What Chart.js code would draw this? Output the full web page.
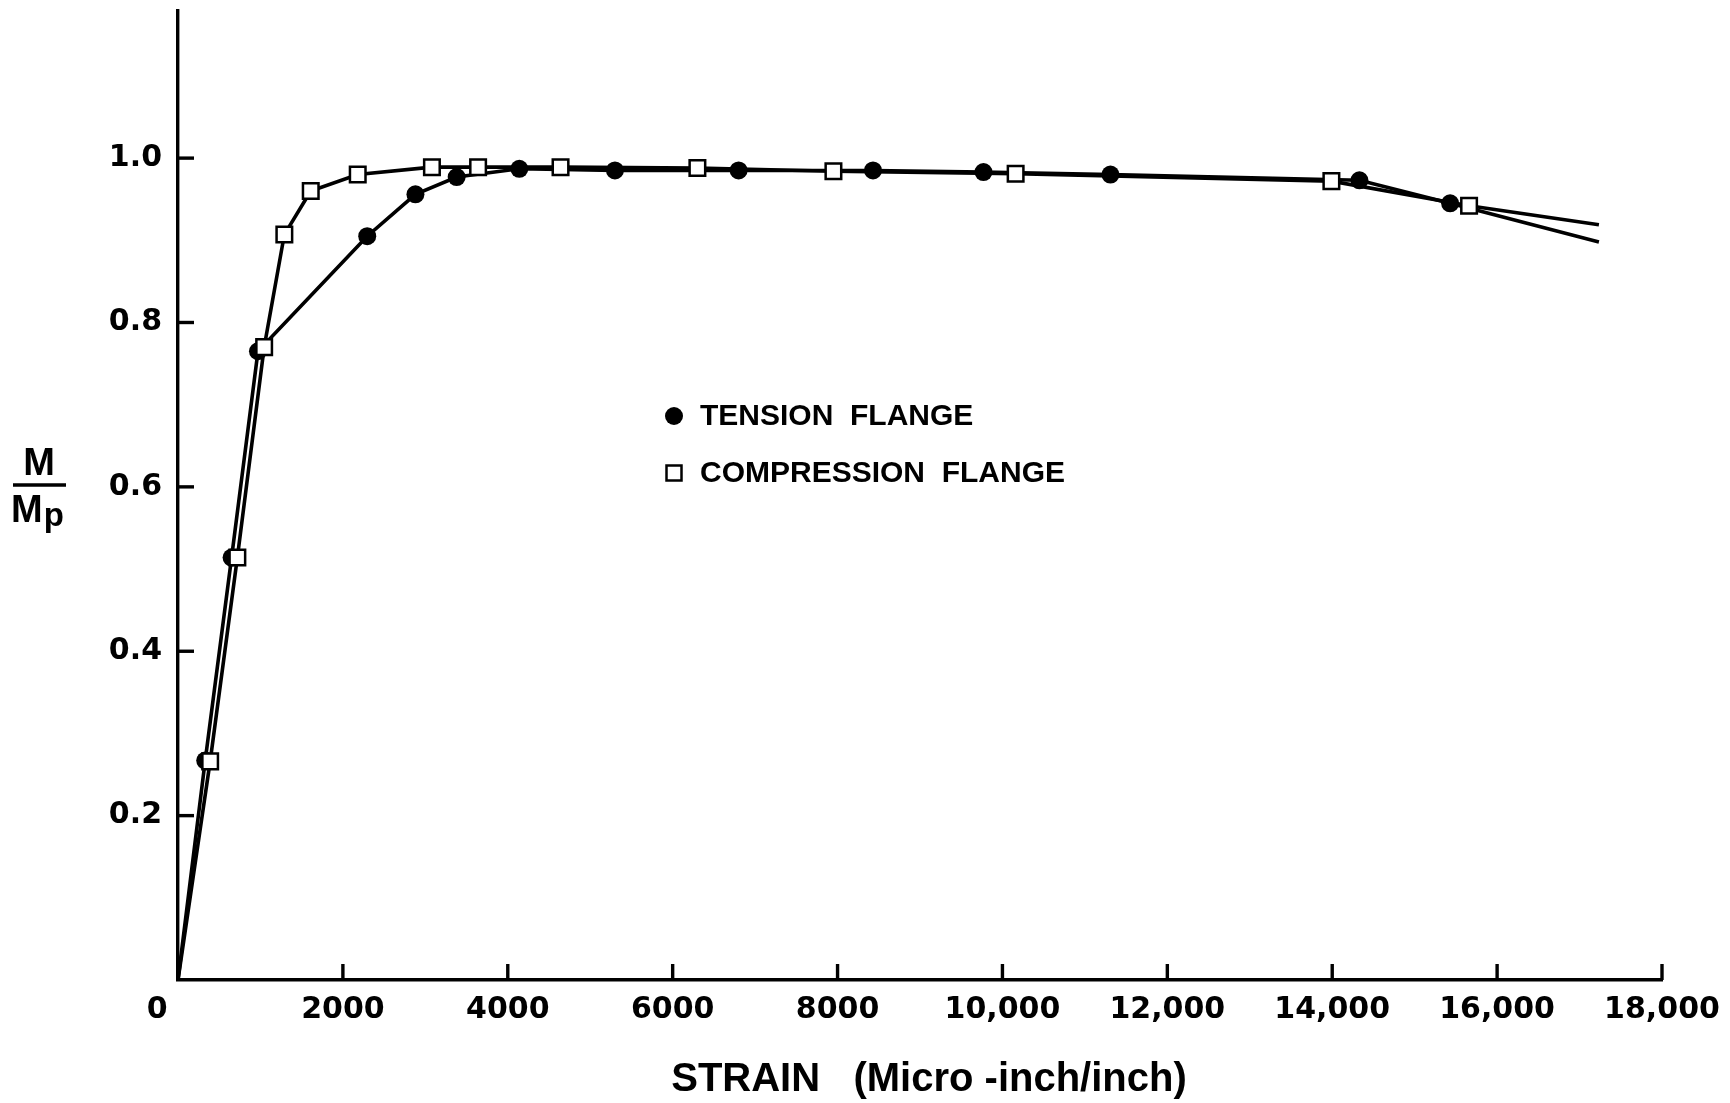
<!DOCTYPE html>
<html>
<head>
<meta charset="utf-8">
<title>Moment vs strain</title>
<script src="https://cdn.jsdelivr.net/npm/chart.js@4.4.0/dist/chart.umd.min.js"></script>
<style>
  html, body { margin: 0; padding: 0; background: #fff; }
  #wrap { width: 1730px; height: 1103px; }
</style>
</head>
<body>
<div id="wrap"><canvas id="momentChart" width="1730" height="1103"></canvas></div>
<script>
// values (strain in micro-inch/inch, moment as M/Mp)
const tensionStrain = [0, 330, 650, 970, 2295, 2880, 3380, 4140, 5300, 6800, 8430, 9770, 11310, 14330, 15430, 17235];
const tensionMoment = [0, 0.267, 0.514, 0.765, 0.905, 0.956, 0.977, 0.987, 0.985, 0.985, 0.985, 0.983, 0.980, 0.973, 0.945, 0.898];
const compressionStrain = [0, 390, 720, 1045, 1290, 1610, 2180, 3080, 3640, 4640, 6300, 7950, 10160, 13990, 15660, 17235];
const compressionMoment = [0, 0.266, 0.514, 0.770, 0.907, 0.960, 0.980, 0.989, 0.989, 0.989, 0.988, 0.984, 0.981, 0.972, 0.942, 0.919];

const strainTicks = [0, 2000, 4000, 6000, 8000, 10000, 12000, 14000, 16000, 18000];
const strainTickLabels = ["0", "2000", "4000", "6000", "8000", "10,000", "12,000", "14,000", "16,000", "18,000"];
const momentTicks = [0.2, 0.4, 0.6, 0.8, 1.0];
const momentTickLabels = ["0.2", "0.4", "0.6", "0.8", "1.0"];
const seriesLabels = ["TENSION  FLANGE", "COMPRESSION  FLANGE"];

const TICK_FONT = '"DejaVu Sans", sans-serif';
const TEXT_FONT = '"Liberation Sans", Arial, sans-serif';
const INK = "#000";

function toPoints(xs, ys) {
  return xs.map((x, i) => ({ x: x, y: ys[i] }));
}

// no marker on the origin or on the free end of each curve
function markerSize(r) {
  return (ctx) => {
    const n = ctx.dataset.data.length;
    return ctx.dataIndex === 0 || ctx.dataIndex === n - 1 ? 0 : r;
  };
}

// fixed axis box sizes, no label overhang padding
function fixBox(size) {
  return (scale) => {
    if (scale.isHorizontal()) scale.height = size; else scale.width = size;
    scale.paddingTop = 0;
    scale.paddingBottom = 0;
    scale.paddingLeft = 0;
    scale.paddingRight = 0;
  };
}

const decorations = {
  id: "decorations",
  afterDraw(chart) {
    const ctx = chart.ctx;
    const area = chart.chartArea;
    const xs = chart.scales.x;
    const ys = chart.scales.y;
    ctx.save();
    ctx.strokeStyle = INK;
    ctx.fillStyle = INK;
    ctx.lineWidth = 3.4;

    // inward tick marks
    momentTicks.forEach((v) => {
      const y = ys.getPixelForValue(v);
      ctx.beginPath();
      ctx.moveTo(area.left, y);
      ctx.lineTo(area.left + 16, y);
      ctx.stroke();
    });
    strainTicks.slice(1).forEach((v) => {
      const x = xs.getPixelForValue(v);
      ctx.beginPath();
      ctx.moveTo(x, area.bottom);
      ctx.lineTo(x, area.bottom - 16);
      ctx.stroke();
    });

    // legend
    const lx = 674, ly1 = 416, ly2 = 473;
    ctx.beginPath();
    ctx.arc(lx, ly1, 9, 0, Math.PI * 2);
    ctx.fill();
    ctx.fillStyle = "#fff";
    ctx.lineWidth = 2.5;
    ctx.fillRect(lx - 7.5, ly2 - 7.5, 15, 15);
    ctx.strokeRect(lx - 7.5, ly2 - 7.5, 15, 15);
    ctx.fillStyle = INK;
    ctx.font = "bold 30px " + TEXT_FONT;
    ctx.textAlign = "left";
    ctx.textBaseline = "middle";
    ctx.fillText(seriesLabels[0], 700, ly1 + 1);
    ctx.fillText(seriesLabels[1], 700, ly2 + 1);

    // y title  M / Mp
    ctx.textAlign = "center";
    ctx.font = "bold 38px " + TEXT_FONT;
    ctx.fillText("M", 39, 465);
    ctx.lineWidth = 3.4;
    ctx.beginPath();
    ctx.moveTo(13, 485);
    ctx.lineTo(66, 485);
    ctx.stroke();
    ctx.textAlign = "left";
    ctx.fillText("M", 11, 512);
    const mw = ctx.measureText("M").width;
    ctx.font = "bold 33px " + TEXT_FONT;
    ctx.fillText("p", 11 + mw + 1, 517);

    // x title
    ctx.textAlign = "center";
    ctx.font = "bold 40px " + TEXT_FONT;
    ctx.fillText("STRAIN   (Micro -inch/inch)", 929, 1080);
    ctx.restore();
  }
};

const chart = new Chart(document.getElementById("momentChart"), {
  type: "line",
  data: {
    datasets: [
      {
        label: seriesLabels[1],
        data: toPoints(compressionStrain, compressionMoment),
        borderColor: INK,
        borderWidth: 3.6,
        backgroundColor: "#fff",
        pointStyle: "rect",
        pointRadius: markerSize(11),
        pointBorderWidth: 2.5,
        pointBorderColor: INK,
        pointBackgroundColor: "#fff",
        tension: 0,
        order: 0
      },
      {
        label: seriesLabels[0],
        data: toPoints(tensionStrain, tensionMoment),
        borderColor: INK,
        borderWidth: 3.6,
        backgroundColor: INK,
        pointStyle: "circle",
        pointRadius: markerSize(9),
        pointBorderWidth: 0,
        pointBackgroundColor: INK,
        tension: 0,
        order: 1
      }
    ]
  },
  options: {
    responsive: false,
    animation: false,
    devicePixelRatio: 1,
    layout: { autoPadding: false, padding: { top: 11, right: 68, left: 0, bottom: 0 } },
    plugins: {
      legend: { display: false },
      tooltip: { enabled: false },
      title: { display: false }
    },
    scales: {
      x: {
        type: "linear",
        min: 0,
        max: 18000,
        afterBuildTicks: (scale) => {
          scale.ticks = strainTicks.map((v) => ({ value: v }));
        },
        afterFit: fixBox(123),
        ticks: {
          color: INK,
          font: { family: TICK_FONT, size: 30, weight: "bold" },
          padding: 12,
          maxRotation: 0,
          autoSkip: false,
          // the "0" label sits left of the origin in the original
          callback: (v) => {
            const s = strainTickLabels[strainTicks.indexOf(v)];
            return v === 0 ? s + "\u2007\u2007" : s;
          }
        },
        grid: { display: true, drawOnChartArea: false, drawTicks: false },
        border: { display: true, color: INK, width: 3.4 }
      },
      y: {
        type: "linear",
        min: 0,
        max: 1.179,
        afterBuildTicks: (scale) => {
          scale.ticks = momentTicks.map((v) => ({ value: v }));
        },
        afterFit: fixBox(178),
        ticks: {
          color: INK,
          font: { family: TICK_FONT, size: 30, weight: "bold" },
          padding: 16,
          autoSkip: false,
          callback: (v) => momentTickLabels[momentTicks.indexOf(v)]
        },
        grid: { display: true, drawOnChartArea: false, drawTicks: false },
        border: { display: true, color: INK, width: 3.4 }
      }
    }
  },
  plugins: [decorations]
});
</script>
</body>
</html>
